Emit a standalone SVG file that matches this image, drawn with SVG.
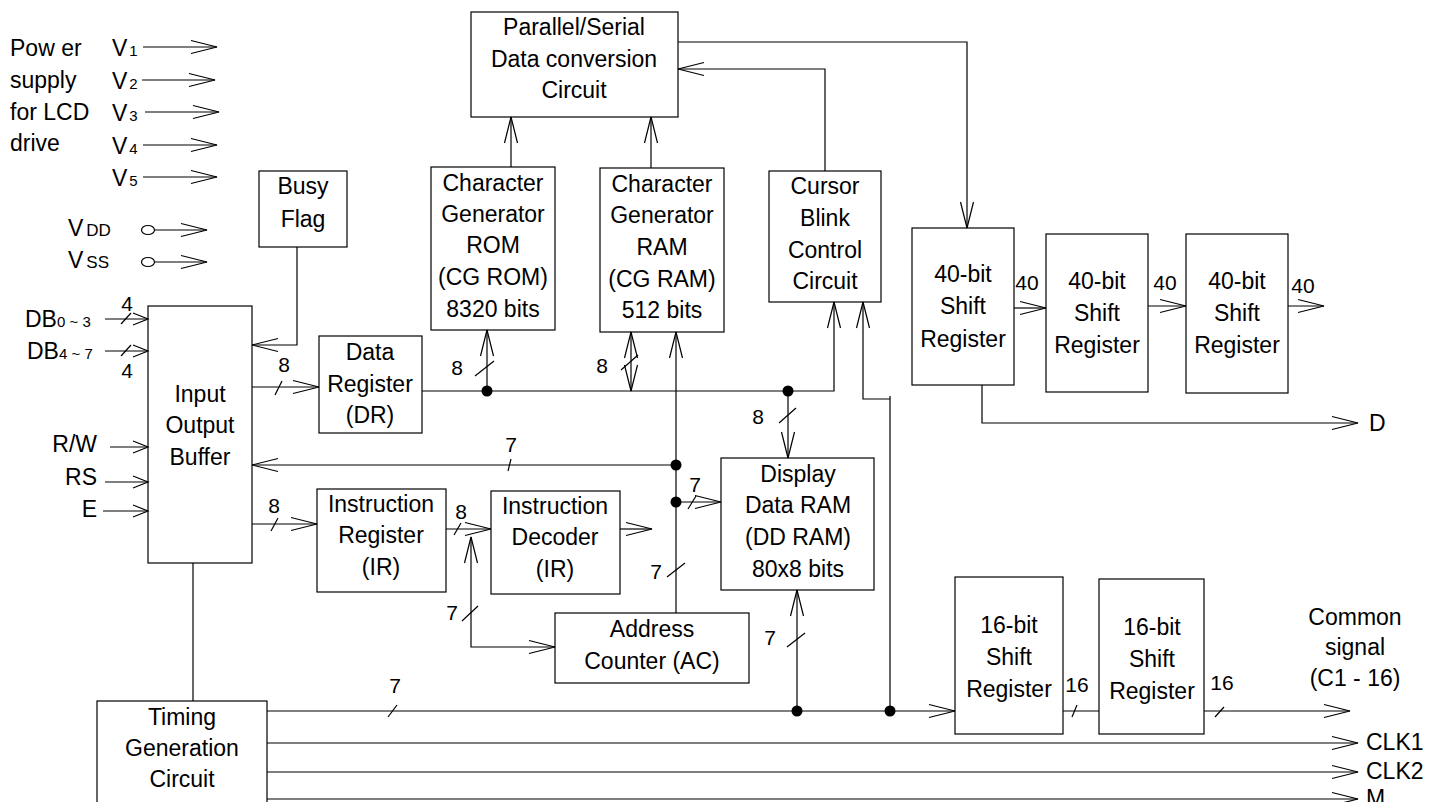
<svg xmlns="http://www.w3.org/2000/svg" width="1439" height="802" viewBox="0 0 1439 802">
<style>
text{font-family:"Liberation Sans",Arial,sans-serif;fill:#000}
.t{font-size:23px;text-anchor:middle}
.l{font-size:23px}
.n{font-size:21px;text-anchor:middle}
.s{font-size:15px}
rect.b{fill:#fff;stroke:#000;stroke-width:1.2}
.c path,.c line{fill:none;stroke:#000;stroke-width:1.2}
.c circle{fill:#000}
</style>
<defs>
<marker id="a" markerUnits="userSpaceOnUse" orient="auto-start-reverse" overflow="visible" markerWidth="1" markerHeight="1"><path d="M-26,-6.5 L0,0 L-26,6.5" fill="none" stroke="#000" stroke-width="1.2"/></marker>
<marker id="k" markerUnits="userSpaceOnUse" orient="auto" overflow="visible" markerWidth="1" markerHeight="1"><path d="M-15,-6 L0,0 L-15,6" fill="none" stroke="#000" stroke-width="1.2"/></marker>
</defs>
<rect width="1439" height="802" fill="#fff"/>

<g id="power">
<text class="l" x="10" y="56">Pow er</text>
<text class="l" x="10" y="88">supply</text>
<text class="l" x="10" y="120">for LCD</text>
<text class="l" x="10" y="151">drive</text>
<text class="l" x="112" y="56">V<tspan class="s" dx="2">1</tspan></text>
<text class="l" x="112" y="89">V<tspan class="s" dx="2">2</tspan></text>
<text class="l" x="112" y="121">V<tspan class="s" dx="2">3</tspan></text>
<text class="l" x="112" y="154">V<tspan class="s" dx="2">4</tspan></text>
<text class="l" x="112" y="186">V<tspan class="s" dx="2">5</tspan></text>
<text class="l" x="68" y="236">V<tspan dx="3" font-size="17">DD</tspan></text>
<text class="l" x="68" y="268">V<tspan dx="3" font-size="17">SS</tspan></text>
</g>

<g id="inputs">
<text class="l" x="25" y="327">DB<tspan class="s">0 ~ 3</tspan></text>
<text class="l" x="27" y="359">DB<tspan class="s">4 ~ 7</tspan></text>
<text class="l" x="97" y="452" text-anchor="end">R/W</text>
<text class="l" x="97" y="485" text-anchor="end">RS</text>
<text class="l" x="97" y="517" text-anchor="end">E</text>
</g>

<g id="busy-flag"><rect class="b" x="259" y="171" width="88" height="76"/>
<text class="t" x="303" y="194">Busy</text><text class="t" x="303" y="227">Flag</text></g>

<g id="io-buffer"><rect class="b" x="148" y="306" width="104" height="257"/>
<text class="t" x="200" y="402">Input</text><text class="t" x="200" y="433">Output</text><text class="t" x="200" y="465">Buffer</text></g>

<g id="data-register"><rect class="b" x="319" y="336" width="103" height="97"/>
<text class="t" x="370" y="360">Data</text><text class="t" x="370" y="392">Register</text><text class="t" x="370" y="423">(DR)</text></g>

<g id="ps-conv"><rect class="b" x="471" y="12" width="207" height="105"/>
<text class="t" x="574" y="35">Parallel/Serial</text><text class="t" x="574" y="67">Data conversion</text><text class="t" x="574" y="98">Circuit</text></g>

<g id="cg-rom"><rect class="b" x="431" y="167" width="124" height="163"/>
<text class="t" x="493" y="191">Character</text><text class="t" x="493" y="222">Generator</text><text class="t" x="493" y="253">ROM</text><text class="t" x="493" y="285">(CG ROM)</text><text class="t" x="493" y="317">8320 bits</text></g>

<g id="cg-ram"><rect class="b" x="600" y="168" width="124" height="164"/>
<text class="t" x="662" y="192">Character</text><text class="t" x="662" y="223">Generator</text><text class="t" x="662" y="255">RAM</text><text class="t" x="662" y="287">(CG RAM)</text><text class="t" x="662" y="318">512 bits</text></g>

<g id="cursor"><rect class="b" x="769" y="171" width="112" height="131"/>
<text class="t" x="825" y="194">Cursor</text><text class="t" x="825" y="226">Blink</text><text class="t" x="825" y="258">Control</text><text class="t" x="825" y="289">Circuit</text></g>

<g id="sr40-1"><rect class="b" x="912" y="228" width="102" height="157"/>
<text class="t" x="963" y="282">40-bit</text><text class="t" x="963" y="314">Shift</text><text class="t" x="963" y="347">Register</text></g>
<g id="sr40-2"><rect class="b" x="1046" y="234" width="102" height="158"/>
<text class="t" x="1097" y="289">40-bit</text><text class="t" x="1097" y="321">Shift</text><text class="t" x="1097" y="353">Register</text></g>
<g id="sr40-3"><rect class="b" x="1186" y="234" width="102" height="159"/>
<text class="t" x="1237" y="289">40-bit</text><text class="t" x="1237" y="321">Shift</text><text class="t" x="1237" y="353">Register</text></g>

<g id="ir"><rect class="b" x="317" y="489" width="129" height="103"/>
<text class="t" x="381" y="512">Instruction</text><text class="t" x="381" y="543">Register</text><text class="t" x="381" y="575">(IR)</text></g>

<g id="id"><rect class="b" x="491" y="491" width="129" height="103"/>
<text class="t" x="555" y="514">Instruction</text><text class="t" x="555" y="545">Decoder</text><text class="t" x="555" y="577">(IR)</text></g>

<g id="ac"><rect class="b" x="555" y="613" width="194" height="70"/>
<text class="t" x="652" y="637">Address</text><text class="t" x="652" y="669">Counter (AC)</text></g>

<g id="dd-ram"><rect class="b" x="721" y="458" width="153" height="132"/>
<text class="t" x="798" y="482">Display</text><text class="t" x="798" y="513">Data RAM</text><text class="t" x="798" y="545">(DD RAM)</text><text class="t" x="798" y="577">80x8 bits</text></g>

<g id="sr16-1"><rect class="b" x="955" y="577" width="108" height="157"/>
<text class="t" x="1009" y="633">16-bit</text><text class="t" x="1009" y="665">Shift</text><text class="t" x="1009" y="697">Register</text></g>
<g id="sr16-2"><rect class="b" x="1099" y="579" width="105" height="155"/>
<text class="t" x="1152" y="635">16-bit</text><text class="t" x="1152" y="667">Shift</text><text class="t" x="1152" y="699">Register</text></g>

<g id="timing"><rect class="b" x="97" y="701" width="170" height="130"/>
<text class="t" x="182" y="725">Timing</text><text class="t" x="182" y="756">Generation</text><text class="t" x="182" y="787">Circuit</text></g>

<g id="outputs">
<text class="t" x="1355" y="625">Common</text><text class="t" x="1355" y="655">signal</text><text class="t" x="1355" y="686">(C1 - 16)</text>
<text class="l" x="1366" y="750">CLK1</text>
<text class="l" x="1366" y="779">CLK2</text>
<text class="l" x="1366" y="806">M</text>
<text class="l" x="1369" y="431">D</text>
</g>

<g id="connectors" class="c">
<path d="M143,47H217" marker-end="url(#a)"/>
<path d="M142,80H215" marker-end="url(#a)"/>
<path d="M145,112H219" marker-end="url(#a)"/>
<path d="M143,145H217" marker-end="url(#a)"/>
<path d="M143,177H217" marker-end="url(#a)"/>
<ellipse cx="148" cy="230" rx="6.5" ry="4.5" fill="#fff" stroke="#000" stroke-width="1.2"/>
<path d="M154.5,230H207" marker-end="url(#a)"/>
<ellipse cx="148" cy="262" rx="6.5" ry="4.5" fill="#fff" stroke="#000" stroke-width="1.2"/>
<path d="M154.5,262H207" marker-end="url(#a)"/>
<path d="M105,319H148" marker-end="url(#k)"/>
<path d="M105,351H148" marker-end="url(#k)"/>
<path d="M110,447H148" marker-end="url(#k)"/>
<path d="M105,482H148" marker-end="url(#k)"/>
<path d="M103,511H148" marker-end="url(#k)"/>
<path d="M297,247V345H252" marker-end="url(#a)"/>
<path d="M252,387H319" marker-end="url(#a)"/>
<path d="M422,391H834V302" marker-end="url(#a)"/>
<path d="M487,391V330" marker-end="url(#a)"/>
<path d="M631,391V332" marker-start="url(#a)" marker-end="url(#a)"/>
<path d="M788,391V458" marker-end="url(#a)"/>
<path d="M676,613V332" marker-end="url(#a)"/>
<path d="M676,465H252" marker-end="url(#a)"/>
<path d="M676,502H721" marker-end="url(#a)"/>
<path d="M252,524H317" marker-end="url(#a)"/>
<path d="M446,529H491" marker-end="url(#a)"/>
<path d="M471,537V647H555" marker-start="url(#a)" marker-end="url(#a)"/>
<path d="M620,529H652" marker-end="url(#a)"/>
<path d="M797,711V590" marker-end="url(#a)"/>
<path d="M890,711V399H863V302" marker-end="url(#a)"/>
<path d="M890,399V396"/>
<path d="M267,711H955" marker-end="url(#a)"/>
<path d="M1063,711H1099"/>
<path d="M1204,711H1350" marker-end="url(#a)"/>
<path d="M267,743H1358" marker-end="url(#a)"/>
<path d="M267,772H1358" marker-end="url(#a)"/>
<path d="M267,799H1358" marker-end="url(#a)"/>
<path d="M678,42H967V228" marker-end="url(#a)"/>
<path d="M825,171V69H678" marker-end="url(#a)"/>
<path d="M511,167V117" marker-end="url(#a)"/>
<path d="M651,168V117" marker-end="url(#a)"/>
<path d="M1014,308H1046" marker-end="url(#a)"/>
<path d="M1148,306H1186" marker-end="url(#a)"/>
<path d="M1288,306H1324" marker-end="url(#a)"/>
<path d="M982,385V423H1358" marker-end="url(#a)"/>
<path d="M193,563V701"/>
<circle cx="487" cy="391" r="5.5"/>
<circle cx="788" cy="391" r="5.5"/>
<circle cx="676" cy="465" r="5.5"/>
<circle cx="676" cy="502" r="5.5"/>
<circle cx="797" cy="711" r="5.5"/>
<circle cx="890" cy="711" r="5.5"/>
<line x1="121" y1="324" x2="131" y2="313"/>
<line x1="121" y1="356" x2="131" y2="345"/>
<line x1="275" y1="395" x2="282" y2="381"/>
<line x1="508" y1="471" x2="511" y2="459"/>
<line x1="271" y1="531" x2="278" y2="518"/>
<line x1="454" y1="535" x2="461" y2="523"/>
<line x1="688" y1="509" x2="696" y2="496"/>
<line x1="388" y1="717" x2="397" y2="705"/>
<line x1="1072" y1="717" x2="1077" y2="705"/>
<line x1="1215" y1="717" x2="1224" y2="707"/>
<line x1="475" y1="376" x2="494" y2="361"/>
<line x1="621" y1="370" x2="638" y2="355"/>
<line x1="779" y1="423" x2="796" y2="408"/>
<line x1="667" y1="577" x2="685" y2="563"/>
<line x1="787" y1="647" x2="805" y2="633"/>
<line x1="462" y1="621" x2="478" y2="606"/>
</g>

<g id="bus-labels">
<text class="n" x="127" y="311">4</text>
<text class="n" x="127" y="378">4</text>
<text class="n" x="284" y="372">8</text>
<text class="n" x="274" y="513">8</text>
<text class="n" x="461" y="519">8</text>
<text class="n" x="457" y="375">8</text>
<text class="n" x="602" y="373">8</text>
<text class="n" x="758" y="424">8</text>
<text class="n" x="511" y="452">7</text>
<text class="n" x="695" y="492">7</text>
<text class="n" x="452" y="620">7</text>
<text class="n" x="656" y="579">7</text>
<text class="n" x="770" y="645">7</text>
<text class="n" x="395" y="693">7</text>
<text class="n" x="1077" y="692">16</text>
<text class="n" x="1222" y="690">16</text>
<text class="n" x="1027" y="290">40</text>
<text class="n" x="1165" y="290">40</text>
<text class="n" x="1303" y="293">40</text>
</g>
</svg>
